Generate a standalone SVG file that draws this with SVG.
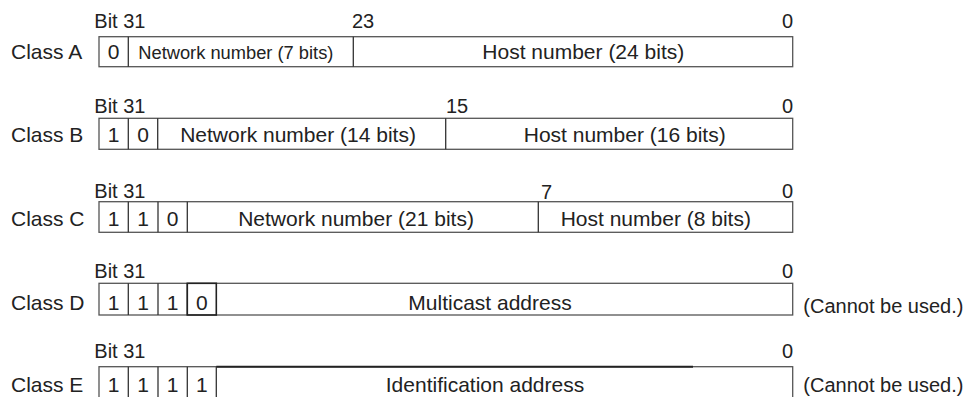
<svg xmlns="http://www.w3.org/2000/svg" width="973" height="397" viewBox="0 0 973 397">
<style>
text{font-family:"Liberation Sans",Arial,sans-serif;fill:#222;font-size:20px}
.in{font-size:21px}
.sm{font-size:18.3px}
.mid{text-anchor:middle}
.end{text-anchor:end}
.box{fill:#fff;stroke:#555;stroke-width:1.3}
.div{stroke:#333;stroke-width:1.3}
</style>
<rect width="973" height="397" fill="#fff"/>
<g id="classA">
<text x="11" y="59.3" class="in">Class A</text>
<text x="94.3" y="28.3">Bit 31</text>
<text x="352" y="28.3">23</text>
<text x="793" y="28.3" class="end">0</text>
<rect class="box" x="99" y="36.7" width="693.7" height="30"/>
<line class="div" x1="128.3" y1="36.7" x2="128.3" y2="66.7"/>
<line class="div" x1="353.3" y1="36.7" x2="353.3" y2="66.7"/>
<text x="113.7" y="59.3" class="in mid">0</text>
<text x="138.3" y="58.5" class="sm">Network number (7 bits)</text>
<text x="583.3" y="59.3" class="in mid">Host number (24 bits)</text>
</g>
<g id="classB">
<text x="11" y="142.3" class="in">Class B</text>
<text x="94.3" y="113.3">Bit 31</text>
<text x="446" y="113.3">15</text>
<text x="793" y="113.3" class="end">0</text>
<rect class="box" x="99" y="118.3" width="693.7" height="31"/>
<line class="div" x1="128.3" y1="118.3" x2="128.3" y2="149.3"/>
<line class="div" x1="157.7" y1="118.3" x2="157.7" y2="149.3"/>
<line class="div" x1="445.7" y1="118.3" x2="445.7" y2="149.3"/>
<text x="113.7" y="142.3" class="in mid">1</text>
<text x="143" y="142.3" class="in mid">0</text>
<text x="298" y="142.3" class="in mid">Network number (14 bits)</text>
<text x="624.7" y="142.3" class="in mid">Host number (16 bits)</text>
</g>
<g id="classC">
<text x="11" y="225.5" class="in">Class C</text>
<text x="94.3" y="198.3">Bit 31</text>
<text x="541" y="198.8">7</text>
<text x="793" y="198.3" class="end">0</text>
<rect class="box" x="99" y="201.7" width="693.7" height="30.6"/>
<line class="div" x1="128.3" y1="201.7" x2="128.3" y2="232.3"/>
<line class="div" x1="158" y1="201.7" x2="158" y2="232.3"/>
<line class="div" x1="187.3" y1="201.7" x2="187.3" y2="232.3"/>
<line class="div" x1="538.3" y1="201.7" x2="538.3" y2="232.3"/>
<text x="113.7" y="225.5" class="in mid">1</text>
<text x="143" y="225.5" class="in mid">1</text>
<text x="172.7" y="225.5" class="in mid">0</text>
<text x="356" y="225.5" class="in mid">Network number (21 bits)</text>
<text x="655.8" y="225.5" class="in mid">Host number (8 bits)</text>
</g>
<g id="classD">
<text x="11" y="309.5" class="in">Class D</text>
<text x="94.3" y="278.3">Bit 31</text>
<text x="793" y="278.3" class="end">0</text>
<rect class="box" x="99" y="283.3" width="693.7" height="31.7"/>
<line class="div" x1="128.3" y1="283.3" x2="128.3" y2="315"/>
<line class="div" x1="158" y1="283.3" x2="158" y2="315"/>
<line class="div" x1="187.3" y1="283.3" x2="187.3" y2="315"/>
<rect x="187.3" y="283.3" width="29" height="31.7" fill="none" stroke="#222" stroke-width="1.6"/>
<text x="113.7" y="309.5" class="in mid">1</text>
<text x="143" y="309.5" class="in mid">1</text>
<text x="172.7" y="309.5" class="in mid">1</text>
<text x="201.8" y="309.5" class="in mid">0</text>
<text x="490" y="309.5" class="in mid">Multicast address</text>
<text x="803.3" y="313.3">(Cannot be used.)</text>
</g>
<g id="classE">
<text x="11" y="392" class="in">Class E</text>
<text x="94.3" y="358.3">Bit 31</text>
<text x="793" y="358.3" class="end">0</text>
<rect class="box" x="99" y="366.7" width="693.7" height="40"/>
<line x1="216.3" y1="366.7" x2="693" y2="366.7" stroke="#222" stroke-width="2"/>
<line class="div" x1="128.3" y1="366.7" x2="128.3" y2="400"/>
<line class="div" x1="158" y1="366.7" x2="158" y2="400"/>
<line class="div" x1="187.3" y1="366.7" x2="187.3" y2="400"/>
<line class="div" x1="216.3" y1="366.7" x2="216.3" y2="400"/>
<text x="113.7" y="392" class="in mid">1</text>
<text x="143" y="392" class="in mid">1</text>
<text x="172.7" y="392" class="in mid">1</text>
<text x="201.8" y="392" class="in mid">1</text>
<text x="485" y="392" class="in mid">Identification address</text>
<text x="803.3" y="392.3">(Cannot be used.)</text>
</g>
<g id="connectors"></g>
</svg>
